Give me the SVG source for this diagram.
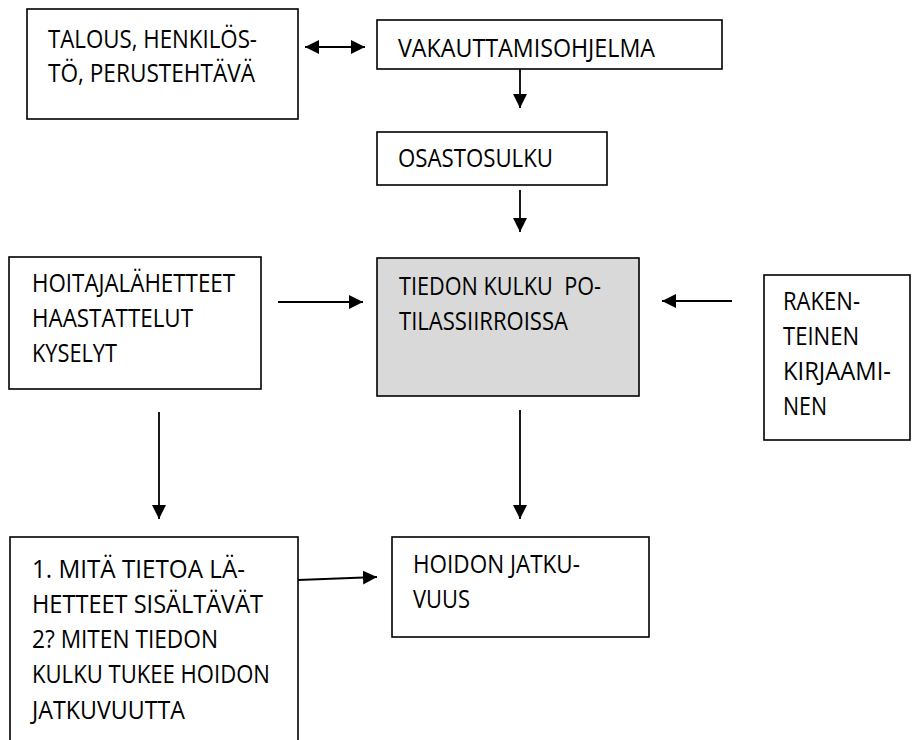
<svg xmlns="http://www.w3.org/2000/svg" width="912" height="740" viewBox="0 0 912 740">
<style>
.box{fill:#fff;stroke:#000;stroke-width:1.6}
.gray{fill:#d9d9d9;stroke:#000;stroke-width:1.6}
.t{font-family:"Open Sans","Noto Sans","Liberation Sans",sans-serif;font-size:25px;fill:#000}
.pre{white-space:pre}
.c{stroke:#000;stroke-width:1.8;fill:none}
</style>
<defs>
<marker id="ah" viewBox="0 0 14 14" markerWidth="14" markerHeight="14" refX="14" refY="7" orient="auto-start-reverse" markerUnits="userSpaceOnUse">
<path d="M0,0 L14,7 L0,14 z" fill="#000"/>
</marker>
</defs>
<g id="connectors">
<line class="c" x1="305" y1="47" x2="365" y2="47" marker-start="url(#ah)" marker-end="url(#ah)"/>
<line class="c" x1="520" y1="69" x2="520" y2="108" marker-end="url(#ah)"/>
<line class="c" x1="520" y1="190" x2="520" y2="232" marker-end="url(#ah)"/>
<line class="c" x1="278" y1="302" x2="363" y2="302" marker-end="url(#ah)"/>
<line class="c" x1="732" y1="301" x2="662" y2="301" marker-end="url(#ah)"/>
<line class="c" x1="159" y1="412" x2="159" y2="519" marker-end="url(#ah)"/>
<line class="c" x1="520" y1="410" x2="520" y2="519" marker-end="url(#ah)"/>
<line class="c" x1="298" y1="580" x2="377" y2="577" marker-end="url(#ah)"/>
</g>
<g id="talous">
<rect class="box" x="27" y="9" width="271" height="110"/>
<text class="t" x="48" y="48" textLength="209" lengthAdjust="spacingAndGlyphs">TALOUS, HENKILÖS-</text>
<text class="t" x="48" y="82" textLength="207" lengthAdjust="spacingAndGlyphs">TÖ, PERUSTEHTÄVÄ</text>
</g>
<g id="vakauttamisohjelma">
<rect class="box" x="377" y="20" width="345" height="49"/>
<text class="t" x="398" y="57" textLength="257" lengthAdjust="spacingAndGlyphs">VAKAUTTAMISOHJELMA</text>
</g>
<g id="osastosulku">
<rect class="box" x="377" y="132" width="230" height="53"/>
<text class="t" x="398" y="167" textLength="155" lengthAdjust="spacingAndGlyphs">OSASTOSULKU</text>
</g>
<g id="hoitajalahetteet">
<rect class="box" x="9" y="257" width="252" height="132"/>
<text class="t" x="32" y="292" textLength="203" lengthAdjust="spacingAndGlyphs">HOITAJALÄHETTEET</text>
<text class="t" x="32" y="327" textLength="161" lengthAdjust="spacingAndGlyphs">HAASTATTELUT</text>
<text class="t" x="32" y="362" textLength="85" lengthAdjust="spacingAndGlyphs">KYSELYT</text>
</g>
<g id="tiedon-kulku">
<rect class="gray" x="377" y="258" width="262" height="138"/>
<text class="t pre" x="399" y="295" textLength="202" lengthAdjust="spacingAndGlyphs">TIEDON KULKU  PO-</text>
<text class="t" x="399" y="330" textLength="169" lengthAdjust="spacingAndGlyphs">TILASSIIRROISSA</text>
</g>
<g id="rakenteinen">
<rect class="box" x="764" y="275" width="146" height="165"/>
<text class="t" x="783" y="310" textLength="77" lengthAdjust="spacingAndGlyphs">RAKEN-</text>
<text class="t" x="783" y="345" textLength="76" lengthAdjust="spacingAndGlyphs">TEINEN</text>
<text class="t" x="783" y="380" textLength="108" lengthAdjust="spacingAndGlyphs">KIRJAAMI-</text>
<text class="t" x="783" y="415" textLength="44" lengthAdjust="spacingAndGlyphs">NEN</text>
</g>
<g id="kysymykset">
<rect class="box" x="10" y="537" width="288" height="215"/>
<text class="t" x="32" y="578" textLength="213" lengthAdjust="spacingAndGlyphs">1. MITÄ TIETOA LÄ-</text>
<text class="t" x="32" y="613" textLength="231" lengthAdjust="spacingAndGlyphs">HETTEET SISÄLTÄVÄT</text>
<text class="t" x="32" y="648" textLength="186" lengthAdjust="spacingAndGlyphs">2? MITEN TIEDON</text>
<text class="t" x="32" y="683" textLength="238" lengthAdjust="spacingAndGlyphs">KULKU TUKEE HOIDON</text>
<text class="t" x="32" y="719" textLength="153" lengthAdjust="spacingAndGlyphs">JATKUVUUTTA</text>
</g>
<g id="hoidon-jatkuvuus">
<rect class="box" x="392" y="537" width="257" height="100"/>
<text class="t" x="413" y="573" textLength="167" lengthAdjust="spacingAndGlyphs">HOIDON JATKU-</text>
<text class="t" x="413" y="608" textLength="57" lengthAdjust="spacingAndGlyphs">VUUS</text>
</g>
</svg>
